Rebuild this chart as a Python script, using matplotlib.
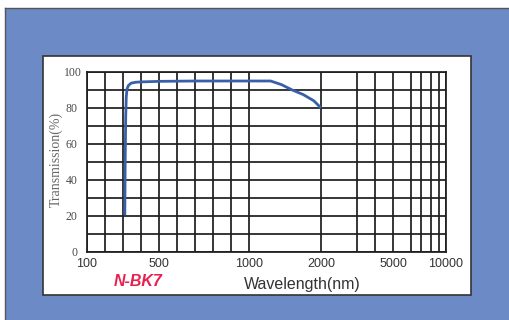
import numpy as np
import matplotlib
matplotlib.use("Agg")
import matplotlib.pyplot as plt
from matplotlib.patches import Rectangle
from matplotlib.lines import Line2D
from matplotlib.transforms import ScaledTranslation

# ---- data ----
wavelength_nm = [310, 312, 315, 318, 322, 330, 345, 370, 400, 500, 700, 1000,
                 1300, 1450, 1600, 1750, 1900, 2000]
transmission = [20.5, 50, 75, 86, 90.5, 92.5, 93.8, 94.3, 94.5, 94.8, 95, 95,
                95, 93, 90, 87.5, 84, 80]

x_tick_values = [100, 500, 1000, 2000, 5000, 10000]
x_tick_labels = ["100", "500", "1000", "2000", "5000", "10000"]
y_tick_values = [0, 20, 40, 60, 80, 100]
grid_wavelengths = [100, 200, 300, 400, 500, 600, 700, 800, 900, 1000,
                    2000, 3000, 4000, 5000, 6000, 7000, 8000, 9000, 10000]
# the chart's own non-uniform axis: grid unit position of each grid wavelength
grid_units = [0, 1, 2, 3, 4, 5, 6, 7, 8, 9,
              13, 15, 16, 17, 18, 18.56, 19.1, 19.57, 19.94]

gw = np.array(grid_wavelengths, float)
gu = np.array(grid_units, float)


def fwd(x):
    return np.interp(np.asarray(x, float), gw, gu)


def inv(u):
    return np.interp(np.asarray(u, float), gu, gw)


W, H = 510, 320
fig = plt.figure(figsize=(W / 100, H / 100), dpi=100)
fig.patch.set_facecolor("white")

# outer blue background with dark top/left line
fig.add_artist(Rectangle((5 / W, 0), 1, 1 - 7.5 / H, transform=fig.transFigure,
                         facecolor="#6c8ac6", edgecolor="none", zorder=-3))
fig.add_artist(Line2D([5 / W, 1], [1 - 7.5 / H, 1 - 7.5 / H],
                      transform=fig.transFigure, color="#555555", lw=1.0, zorder=-2.5))
fig.add_artist(Line2D([5 / W, 5 / W], [0, 1 - 7.5 / H],
                      transform=fig.transFigure, color="#555555", lw=1.0, zorder=-2.5))
# white panel
fig.add_artist(Rectangle((43.5 / W, 1 - 295 / H), (471 - 43.5) / W, (295 - 56) / H,
                         transform=fig.transFigure, facecolor="white",
                         edgecolor="#333333", linewidth=1.2, zorder=-2))

ax = fig.add_axes([87 / W, 1 - 252 / H, (446 - 87) / W, (252 - 72) / H])
ax.set_facecolor("white")
ax.set_xscale("function", functions=(fwd, inv))
ax.set_xlim(100, 10000)
ax.set_ylim(0, 100)

gridc = "#1e1e1e"
for g in grid_wavelengths:
    ax.axvline(g, color=gridc, lw=1.25, zorder=1)
for yv in range(0, 101, 10):
    ax.axhline(yv, color=gridc, lw=1.25, zorder=1)

ax.plot(wavelength_nm, transmission, color="#3a5fa9", lw=2.0, zorder=3,
        solid_capstyle="butt")

for s in ax.spines.values():
    s.set_color(gridc)
    s.set_linewidth(1.25)

ax.set_xticks(x_tick_values)
ax.set_xticklabels(x_tick_labels, fontfamily="Liberation Sans", fontsize=9,
                   color="#333333")
ax.xaxis.set_minor_locator(matplotlib.ticker.NullLocator())
ax.set_yticks(y_tick_values)
ax.set_yticklabels([str(v) for v in y_tick_values], fontfamily="Liberation Serif",
                   fontsize=8.5, color="#4a4a4a")
ax.tick_params(axis="x", length=0, pad=4)
ax.tick_params(axis="y", length=0, pad=7)
for lbl in ax.get_yticklabels():
    if lbl.get_text() == "100":
        lbl.set_transform(lbl.get_transform()
                          + ScaledTranslation(5 / 100, 0, fig.dpi_scale_trans))

ax.set_xlabel("Wavelength(nm)", fontfamily="Liberation Sans", fontsize=11.5,
              color="#333333")
ax.xaxis.set_label_coords((302.5 - 87) / 359, (252 - 284) / 180)
ax.xaxis.label.set_va("center")
ax.set_ylabel("Transmission(%)", fontfamily="Liberation Serif", fontsize=10,
              color="#666666")
ax.yaxis.set_label_coords((56 - 87) / 359, (252 - 159) / 180)
ax.yaxis.label.set_va("center")

fig.text(138.5 / W, 1 - 282 / H, "N-BK7", fontfamily="Liberation Sans",
         fontsize=11.5, fontweight="bold", fontstyle="italic", color="#e8204f",
         ha="center", va="center")

fig.savefig("out.png", dpi=100, facecolor=fig.get_facecolor())
